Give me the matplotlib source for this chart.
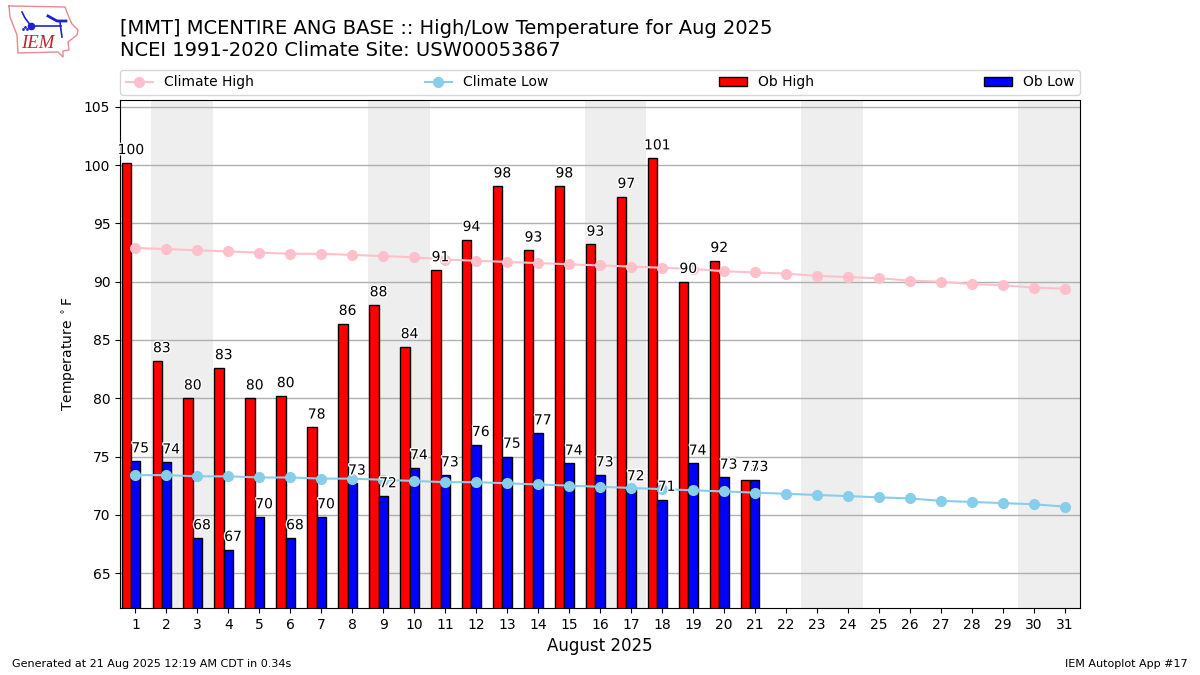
import matplotlib
matplotlib.use("Agg")
import matplotlib.pyplot as plt
import matplotlib.patheffects as PathEffects
import numpy as np

days = list(range(1, 32))
ob_high = [100.2, 83.2, 80, 82.6, 80, 80.2, 77.5, 86.4, 88, 84.4, 91, 93.6, 98.2, 92.7,
           98.2, 93.2, 97.3, 100.6, 90, 91.8, 73]
ob_low = [74.6, 74.5, 68, 67, 69.8, 68, 69.8, 72.7, 71.6, 74, 73.4, 76, 75, 77,
          74.4, 73.4, 72.2, 71.3, 74.4, 73.2, 73]
climate_high = [92.9, 92.8, 92.7, 92.6, 92.5, 92.4, 92.4, 92.3, 92.2, 92.1, 91.9,
                91.8, 91.7, 91.6, 91.5, 91.4, 91.3, 91.2, 91.1, 90.9, 90.8, 90.7,
                90.5, 90.4, 90.3, 90.1, 90.0, 89.8, 89.7, 89.5, 89.4]
climate_low = [73.4, 73.4, 73.3, 73.3, 73.2, 73.2, 73.1, 73.1, 73.0, 72.9, 72.8,
               72.8, 72.7, 72.6, 72.5, 72.4, 72.3, 72.2, 72.1, 72.0, 71.9, 71.8,
               71.7, 71.6, 71.5, 71.4, 71.2, 71.1, 71.0, 70.9, 70.7]
weekends = [(1.5, 3.5), (8.5, 10.5), (15.5, 17.5), (22.5, 24.5), (29.5, 31.5)]

fig = plt.figure(figsize=(12, 6.75), dpi=100)
ax = fig.add_axes([0.1, 0.0993, 0.8, 0.7526])

for start, end in weekends:
    ax.axvspan(start, end, color="#EEEEEE", lw=0, zorder=0)

ob_days = np.array(days[:len(ob_high)])
ax.bar(ob_days - 0.3, ob_high, width=0.3, color="r", edgecolor="k", label="Ob High", zorder=2)
ax.bar(ob_days, ob_low, width=0.3, color="b", edgecolor="k", label="Ob Low", zorder=2)
ax.plot(days, climate_high, color="pink", marker="o", ms=7, lw=1.5, label="Climate High", zorder=3)
ax.plot(days, climate_low, color="skyblue", marker="o", ms=7, lw=1.5, label="Climate Low", zorder=3)

# labels sit on top of the lines with a white halo
halo = [PathEffects.withStroke(linewidth=2, foreground="white")]
for x, hi, lo in zip(ob_days, ob_high, ob_low):
    ax.text(x - 0.15, hi + 0.5, f"{hi:.0f}", ha="center", va="bottom", fontsize=10,
            path_effects=halo, zorder=4)
    ax.text(x + 0.15, lo + 0.5, f"{lo:.0f}", ha="center", va="bottom", fontsize=10,
            path_effects=halo, zorder=4)

ax.set_xlim(0.5, 31.5)
ax.set_ylim(62, 105.6)
ax.set_xticks(days)
ax.set_yticks(range(65, 106, 5))
ax.grid(axis="y", color="#b0b0b0", lw=1, zorder=1)
ax.set_axisbelow(True)
ax.set_xlabel("August 2025", fontsize=12)
ax.set_ylabel(r"Temperature $^\circ$F")

handles, labels = ax.get_legend_handles_labels()
order = [labels.index(n) for n in ["Climate High", "Climate Low", "Ob High", "Ob Low"]]
ax.legend([handles[i] for i in order], [labels[i] for i in order], ncol=4, mode="expand",
          loc="lower left", bbox_to_anchor=(0, 1.0098, 1, 0.05), borderaxespad=0)

fig.text(0.1, 0.911, "[MMT] MCENTIRE ANG BASE :: High/Low Temperature for Aug 2025\n"
         "NCEI 1991-2020 Climate Site: USW00053867", fontsize=14, va="bottom", ha="left")
fig.text(0.01, 0.0125, "Generated at 21 Aug 2025 12:19 AM CDT in 0.34s", fontsize=8)
fig.text(0.99, 0.0125, "IEM Autoplot App #17", fontsize=8, ha="right")

# rough redraw of the IEM logo, in pixel coordinates of the picture
logo = fig.add_axes([0, 1 - 60 / 675, 85 / 1200, 60 / 675])
logo.set_xlim(0, 85)
logo.set_ylim(60, 0)
logo.axis("off")
logo.plot([9, 65, 68, 72, 78, 77, 68, 69, 63, 63, 58, 18, 17, 10, 9],
          [6, 7, 15, 24, 30, 35, 42, 50, 51, 57, 52, 53, 35, 17, 6],
          color="#e58a90", lw=1)
logo.plot([22, 25, 31, 61], [12, 18, 26, 26], color="#2020d0", lw=1.2)
logo.plot([31], [26], marker="o", color="#2020d0", ms=4.5)
logo.plot([48, 57, 66], [16, 21, 21], color="#2020d0", lw=2)
logo.plot([60, 61, 62], [22, 30, 37], color="#2020d0", lw=1.2)
logo.plot([23, 25, 27], [29, 27, 29], color="#2020d0", lw=0, marker=".", ms=2)
logo.text(38, 44, "IEM", color="#c82030", fontsize=13.5, family="Liberation Serif", style="italic",
          ha="center", va="center")

fig.savefig("out.png", dpi=100)
